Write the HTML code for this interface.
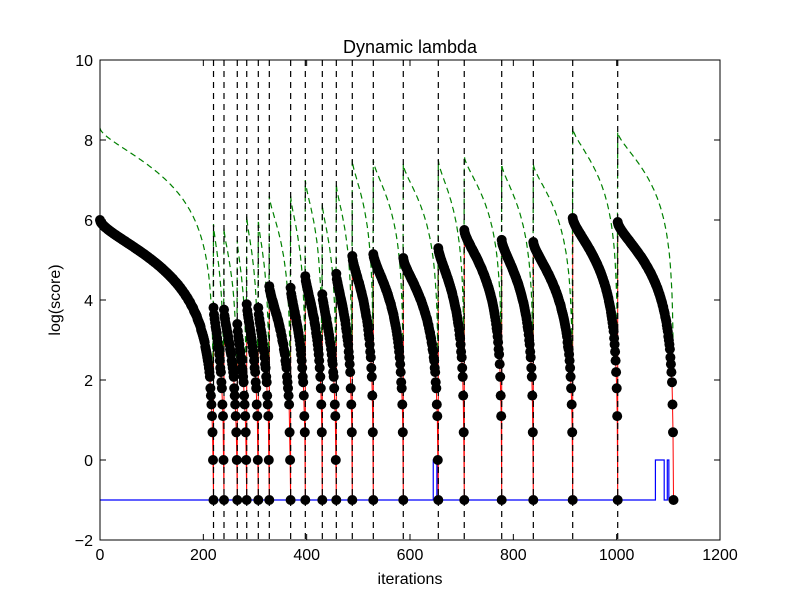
<!DOCTYPE html>
<html><head><meta charset="utf-8"><style>
body{margin:0;background:#fff}
svg{display:block;font-family:"Liberation Sans",sans-serif}
</style></head><body>
<svg id="c" width="800" height="600" viewBox="0 0 800 600">
<rect width="800" height="600" fill="#fff"/>
<g id="plot"></g>
<text x="410" y="53" font-size="18" text-anchor="middle">Dynamic lambda</text>
<text x="410" y="584" font-size="16" text-anchor="middle">iterations</text>
<text x="60" y="300" font-size="16" text-anchor="middle" transform="rotate(-90 60 300)">log(score)</text>
</svg>
<script>
const resets=[219.7,240,265.7,284,306.4,327.7,369,397.4,430.3,457.4,488.3,529,587,654.8,705,777.5,838.7,914.9,1002];
const peaks=[6.0,3.8,3.75,3.4,3.9,3.8,4.35,4.3,4.6,4.15,4.65,5.1,5.15,5.05,5.3,5.75,5.5,5.45,6.05,5.95];
const greenPeaks=[8.3,5.9,5.8,5.5,6.1,6.0,6.6,6.6,7.0,6.4,6.9,7.5,7.5,7.4,7.5,7.6,7.4,7.4,8.3,8.2];
const lastIter=1110;
const blueX=[0,645,645,652,652,1075,1075,1092,1092,1098,1098,1101,1101,1110];
const blueY=[-1,-1,0,0,-1,-1,0,0,-1,-1,0,0,-1,-1];
const xTicks=[0,200,400,600,800,1000,1200];
const yTicks=[-2,0,2,4,6,8,10];

const NS="http://www.w3.org/2000/svg";
const L=100,R=720,T=60,B=540;
const X=v=>L+(v/1200)*(R-L);
const Y=v=>B-((v+2)/12)*(B-T);
const g=document.getElementById('plot');
function mk(tag,a,p){const e=document.createElementNS(NS,tag);for(const k in a)e.setAttribute(k,a[k]);(p||g).appendChild(e);return e;}

const starts=[0].concat(resets), ends=resets.concat([lastIter]);
const bx=[],by=[],gpts=[];
for(let i=0;i<starts.length;i++){
  const s=starts[i],e=ends[i],pk=peaks[i],off=greenPeaks[i]-peaks[i];
  const p=i===0?0.586:0.62;
  const n=Math.max(2,Math.round(e-s));
  for(let k=0;k<=n;k++){
    const t=s+(e-s)*k/n, f=k/n;
    const cont=Math.exp(pk)*(1-Math.pow(f,p));
    const S=Math.round(cont);
    bx.push(t);by.push(S>0?Math.log(S):-1);
    const gv=Math.max(cont>0.5?Math.log(cont)+off:-1,2.0);
    if(k<n)gpts.push(X(t).toFixed(1)+','+Y(gv).toFixed(1));
  }
}
const rp=bx.map((x,i)=>X(x).toFixed(1)+','+Y(by[i]).toFixed(1)).join(' ');
const red=mk('polyline',{points:rp,fill:'none',stroke:'#ff0000','stroke-width':1});


const gr=mk('polyline',{points:gpts.join(' '),fill:'none',stroke:'#008000','stroke-width':1.2,'stroke-dasharray':'6,4'});


const bl=mk('polyline',{points:blueX.map((x,i)=>X(x)+','+Y(blueY[i])).join(' '),fill:'none',stroke:'#0000ff','stroke-width':1.2});


resets.forEach(r=>{
  const l=mk('line',{x1:X(r),x2:X(r),y1:T,y2:B,stroke:'#000','stroke-width':1.2,'stroke-dasharray':'6,5'});
  
  
});
const mg=mk('g',{fill:'#000'});


bx.forEach((x,i)=>{
  const c=mk('circle',{cx:X(x).toFixed(1),cy:Y(by[i]).toFixed(1),r:5},mg);
  
  
});
const fr=mk('rect',{x:L,y:T,width:R-L,height:B-T,fill:'none',stroke:'#000','stroke-width':1});


xTicks.forEach(v=>{
  mk('line',{x1:X(v),x2:X(v),y1:B,y2:B-6,stroke:'#000'});
  mk('line',{x1:X(v),x2:X(v),y1:T,y2:T+6,stroke:'#000'});
  const t=mk('text',{x:X(v),y:B+20,'font-size':16,'text-anchor':'middle'});t.textContent=v;
  
  
});
yTicks.forEach(v=>{
  mk('line',{x1:L,x2:L+6,y1:Y(v),y2:Y(v),stroke:'#000'});
  mk('line',{x1:R,x2:R-6,y1:Y(v),y2:Y(v),stroke:'#000'});
  const t=mk('text',{x:L-7,y:Y(v)+6,'font-size':16,'text-anchor':'end'});t.textContent=v<0?'\u2212'+(-v):v;
  
  
});
</script>
</body></html>
